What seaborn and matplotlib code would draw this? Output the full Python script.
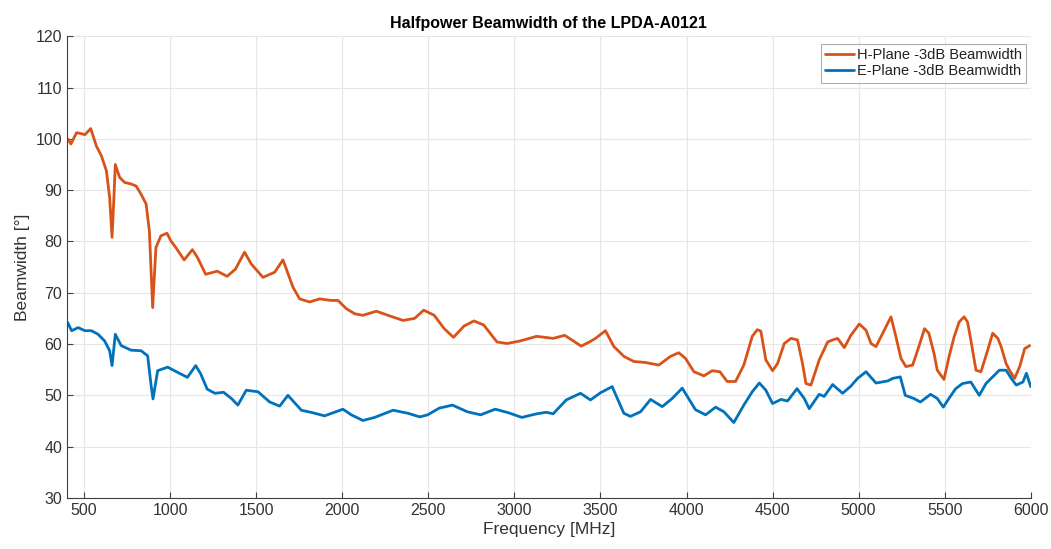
import numpy as np
import pandas as pd
import matplotlib
matplotlib.use("Agg")
import matplotlib.pyplot as plt
import seaborn as sns

# H-plane -3dB beamwidth
h_freq = [404, 423, 456, 485, 504, 538, 571, 600, 629, 648, 662, 673, 681, 706, 735,
          773, 802, 831, 860, 879, 898, 917, 946, 981, 1004, 1033, 1081, 1129, 1158, 1206,
          1273, 1331, 1379, 1432, 1471, 1539, 1607, 1655, 1674, 1713, 1752, 1810, 1868,
          1936, 1975, 2023, 2072, 2120, 2198, 2265, 2353, 2420, 2473, 2534, 2592, 2646,
          2707, 2765, 2822, 2899, 2957, 3033, 3129, 3225, 3292, 3388, 3436, 3471, 3529,
          3578, 3636, 3694, 3762, 3839, 3907, 3955, 3994, 4043, 4101, 4149, 4194, 4236,
          4285, 4333, 4382, 4411, 4432, 4461, 4500, 4529, 4568, 4607, 4645, 4674, 4694,
          4723, 4771, 4820, 4849, 4878, 4917, 4955, 5004, 5043, 5072, 5101, 5140, 5188,
          5217, 5246, 5275, 5314, 5350, 5383, 5408, 5438, 5457, 5496, 5525, 5555, 5584,
          5613, 5633, 5652, 5682, 5711, 5750, 5779, 5809, 5828, 5857, 5877, 5906, 5936,
          5965, 5994]
h_bw = [100.0, 99.0, 101.2, 101.0, 100.8, 102.0, 98.6, 96.7, 93.8, 88.6, 80.8, 88.6, 95.0,
        92.5, 91.5, 91.2, 90.8, 89.2, 87.3, 82.0, 67.1, 78.8, 81.1, 81.6, 80.1, 78.8, 76.4,
        78.4, 76.9, 73.6, 74.2, 73.2, 74.6, 77.9, 75.6, 73.0, 74.0, 76.4, 74.7, 71.1, 68.8,
        68.2, 68.8, 68.5, 68.5, 66.9, 65.9, 65.6, 66.4, 65.6, 64.6, 65.0, 66.6, 65.6, 63.0,
        61.3, 63.5, 64.5, 63.7, 60.4, 60.1, 60.6, 61.5, 61.1, 61.7, 59.6, 60.4, 61.1, 62.6,
        59.5, 57.6, 56.6, 56.4, 55.9, 57.6, 58.3, 57.2, 54.6, 53.8, 54.8, 54.6, 52.7, 52.7,
        55.9, 61.5, 62.8, 62.5, 56.9, 54.8, 56.2, 60.1, 61.1, 60.8, 56.2, 52.3, 52.0, 56.9,
        60.4, 60.8, 61.1, 59.3, 61.7, 63.9, 62.7, 60.1, 59.5, 62.1, 65.3, 61.4, 57.2, 55.6,
        55.9, 59.5, 63.0, 62.1, 58.2, 54.9, 53.1, 57.5, 61.4, 64.3, 65.3, 64.3, 60.8, 54.9,
        54.6, 58.8, 62.1, 61.1, 59.5, 56.2, 54.9, 53.3, 55.6, 59.1, 59.7]

# E-plane -3dB beamwidth
e_freq = [404, 427, 465, 504, 542, 581, 619, 648, 662, 681, 715, 773, 831, 869, 888, 900,
          927, 985, 1042, 1100, 1148, 1177, 1215, 1260, 1310, 1355, 1393, 1442, 1510, 1578,
          1636, 1684, 1762, 1829, 1897, 2004, 2052, 2120, 2188, 2295, 2382, 2450, 2496,
          2563, 2640, 2726, 2803, 2889, 2966, 3043, 3129, 3186, 3225, 3301, 3384, 3442,
          3500, 3568, 3636, 3674, 3733, 3791, 3859, 3917, 3975, 4052, 4111, 4169, 4217,
          4275, 4333, 4382, 4423, 4461, 4500, 4549, 4587, 4642, 4684, 4713, 4771, 4800,
          4849, 4907, 4955, 4994, 5043, 5101, 5169, 5198, 5242, 5271, 5320, 5359, 5418,
          5457, 5492, 5525, 5564, 5604, 5652, 5701, 5740, 5779, 5818, 5857, 5887, 5916,
          5955, 5975, 6000]
e_bw = [64.2, 62.6, 63.2, 62.6, 62.6, 61.9, 60.6, 58.7, 55.8, 61.9, 59.7, 58.8, 58.7,
        57.7, 52.2, 49.3, 54.8, 55.5, 54.5, 53.5, 55.8, 54.2, 51.2, 50.4, 50.6, 49.4, 48.1,
        51.0, 50.7, 48.7, 47.9, 50.0, 47.1, 46.6, 46.0, 47.3, 46.2, 45.1, 45.7, 47.1, 46.5,
        45.8, 46.2, 47.5, 48.1, 46.8, 46.2, 47.3, 46.6, 45.7, 46.4, 46.7, 46.4, 49.1, 50.4,
        49.1, 50.5, 51.7, 46.5, 45.9, 46.8, 49.2, 47.8, 49.4, 51.4, 47.2, 46.2, 47.7, 46.8,
        44.7, 48.1, 50.7, 52.4, 51.0, 48.4, 49.2, 48.9, 51.3, 49.4, 47.4, 50.2, 49.8, 52.1,
        50.4, 51.8, 53.3, 54.6, 52.4, 52.8, 53.3, 53.6, 50.0, 49.4, 48.7, 50.2, 49.4, 47.7,
        49.4, 51.3, 52.3, 52.6, 50.0, 52.3, 53.6, 54.9, 54.9, 53.3, 52.0, 52.6, 54.3, 51.7]

x_ticks = [500, 1000, 1500, 2000, 2500, 3000, 3500, 4000, 4500, 5000, 5500, 6000]
y_ticks = [30, 40, 50, 60, 70, 80, 90, 100, 110, 120]

sns.set_theme(style="white")
plt.rcParams['font.family'] = ['Liberation Sans', 'DejaVu Sans']

fig = plt.figure(figsize=(10.51, 5.49), dpi=100)
ax = fig.add_axes([0.0637, 0.093, 0.917, 0.841])

orange = "#D95319"
blue = "#0072BD"
sns.lineplot(x=h_freq, y=h_bw, ax=ax, color=orange, linewidth=2.0,
             estimator=None, sort=False, label="H-Plane -3dB Beamwidth")
sns.lineplot(x=e_freq, y=e_bw, ax=ax, color=blue, linewidth=2.0,
             estimator=None, sort=False, label="E-Plane -3dB Beamwidth")

ax.set_xlim(400, 6000)
ax.set_ylim(30, 120)
ax.set_xticks(x_ticks)
ax.set_yticks(y_ticks)
ax.grid(True, color="#e6e6e6", linewidth=0.8)
ax.set_axisbelow(True)
ax.spines["top"].set_visible(False)
ax.spines["right"].set_visible(False)
for s in ("left", "bottom"):
    ax.spines[s].set_color("#404040")
    ax.spines[s].set_linewidth(0.8)
ax.tick_params(axis="both", direction="in", length=4, width=0.8, colors="#404040",
               labelsize=11.5, top=False, right=False, bottom=True, left=True)
ax.tick_params(axis="both", labelcolor="#333333")

ax.set_xlabel("Frequency [MHz]", fontsize=12.5, color="#333333", labelpad=3)
ax.set_ylabel("Beamwidth [°]", fontsize=12.5, color="#333333", labelpad=4)
ax.set_title("Halfpower Beamwidth of the LPDA-A0121", fontsize=11.5, fontweight="bold",
             color="#000000", pad=6)

leg = ax.legend(loc="upper right", fontsize=10.5, frameon=True, fancybox=False,
                handlelength=2.0, handletextpad=0.2, borderpad=0.3, labelspacing=0.15,
                bbox_to_anchor=(0.9985, 0.99), borderaxespad=0.2)
leg.get_frame().set_edgecolor("#999999")
leg.get_frame().set_linewidth(0.8)
for t in leg.get_texts():
    t.set_color("#222222")

fig.savefig("out.png", dpi=100)
